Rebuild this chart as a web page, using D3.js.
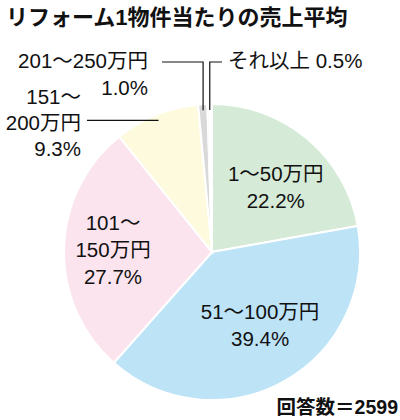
<!DOCTYPE html>
<html>
<head>
<meta charset="utf-8">
<script src="https://cdn.jsdelivr.net/npm/d3@7"></script>
<style>
  body { margin: 0; background: #fff; }
  svg text { font-family: "Liberation Sans", "Noto Sans CJK JP", sans-serif; fill: #111; }
</style>
</head>
<body>
<div id="chart"></div>
<script>
// data
const categories = ["1～50万円", "51～100万円", "101～150万円", "151～200万円", "201～250万円", "それ以上"];
const shares = [22.2, 39.4, 27.7, 9.3, 1.0, 0.5];
const sliceColors = ["#d5ead7", "#bde3f7", "#fbe4ee", "#fefadd", "#d9d9d9", "#ffffff"];
// how each label is broken into lines (percent is appended)
const labelLines = [
    ["1～50万円"],
    ["51～100万円"],
    ["101～", "150万円"],
    ["151～", "200万円"],
    ["201～250万円"],
    ["それ以上"]
];
const title = "リフォーム1物件当たりの売上平均";
const note = "回答数＝2599";

const width = 400, height = 420;
const cx = 212, cy = 252, radius = 148;
const fontSize = '20.5px';

const svg = d3.select('#chart').append('svg')
    .attr('width', width)
    .attr('height', height);

// title
svg.append('text')
    .attr('x', 6)
    .attr('y', 25)
    .style('font-size', '22px')
    .style('font-weight', 'bold')
    .text(title);

const rows = categories.map((c, i) => ({ name: c, value: shares[i], color: sliceColors[i], lines: labelLines[i] }));

const pie = d3.pie()
    .sort(null)
    .value(d => d.value);

const arc = d3.arc().innerRadius(0).outerRadius(radius);
const arcs = pie(rows);

const g = svg.append('g')
    .attr('transform', `translate(${cx},${cy})`);

g.selectAll('.slice')
    .data(arcs)
    .join('path')
    .attr('class', 'slice')
    .attr('d', arc)
    .attr('fill', d => d.data.color)
    .attr('stroke', '#fff')
    .attr('stroke-width', 2);

const fmt = d3.format('.1f');
const lineH = 27;

// labels inside the big slices: centroid at a radius plus a small nudge
const inside = [
    { i: 0, r: 90, dx: 6, dy: 5 },
    { i: 1, r: 90, dx: 4, dy: -5 },
    { i: 2, r: 100, dx: 1, dy: 0 }
];
inside.forEach(p => {
    const a = arcs[p.i];
    const [x, y] = d3.arc().innerRadius(p.r).outerRadius(p.r).centroid(a);
    const lines = a.data.lines.concat([fmt(a.data.value) + '%']);
    const t = g.append('text')
        .attr('text-anchor', 'middle')
        .style('font-size', fontSize);
    lines.forEach((s, k) => {
        t.append('tspan')
            .attr('x', x + p.dx)
            .attr('y', y + p.dy + (k - (lines.length - 1) / 2) * lineH + 7)
            .text(s);
    });
});

// leader lines for the thin slices
const leadArc = d3.arc().innerRadius(radius - 6).outerRadius(radius - 6);
const leaderY = 62 - cy;

// 151～200: straight line to the left
{
    const a = arcs[3];
    const [x, y] = leadArc.centroid(a);
    g.append('line')
        .attr('x1', 87 - cx).attr('y1', y)
        .attr('x2', x).attr('y2', y)
        .attr('stroke', '#111').attr('stroke-width', 1.2);
    const t = g.append('text')
        .attr('text-anchor', 'end')
        .style('font-size', fontSize);
    const lines = a.data.lines.concat([fmt(a.data.value) + '%']);
    lines.forEach((s, k) => {
        t.append('tspan')
            .attr('x', 81 - cx)
            .attr('y', y + (k - 1) * 26 + 10)
            .text(s);
    });
}

// 201～250: up then left
{
    const a = arcs[4];
    const [x, y] = leadArc.centroid(a);
    g.append('polyline')
        .attr('points', `${x},${y} ${x},${leaderY} ${162 - cx},${leaderY}`)
        .attr('fill', 'none')
        .attr('stroke', '#111').attr('stroke-width', 1.2);
    const t = g.append('text')
        .attr('text-anchor', 'end')
        .style('font-size', fontSize);
    t.append('tspan').attr('x', 148 - cx).attr('y', leaderY + 6).text(a.data.lines[0]);
    t.append('tspan').attr('x', 148 - cx).attr('y', leaderY + 33).text(fmt(a.data.value) + '%');
}

// それ以上: up then right
{
    const a = arcs[5];
    const [x, y] = leadArc.centroid(a);
    g.append('polyline')
        .attr('points', `${x},${y} ${x},${leaderY} ${222 - cx},${leaderY}`)
        .attr('fill', 'none')
        .attr('stroke', '#111').attr('stroke-width', 1.2);
    g.append('text')
        .attr('x', 228 - cx)
        .attr('y', leaderY + 6)
        .style('font-size', fontSize)
        .text(a.data.lines[0] + ' ' + fmt(a.data.value) + '%');
}

// respondent count
svg.append('text')
    .attr('x', 398)
    .attr('y', 414)
    .attr('text-anchor', 'end')
    .style('font-size', '19.5px')
    .style('font-weight', 'bold')
    .text(note);
</script>
</body>
</html>
